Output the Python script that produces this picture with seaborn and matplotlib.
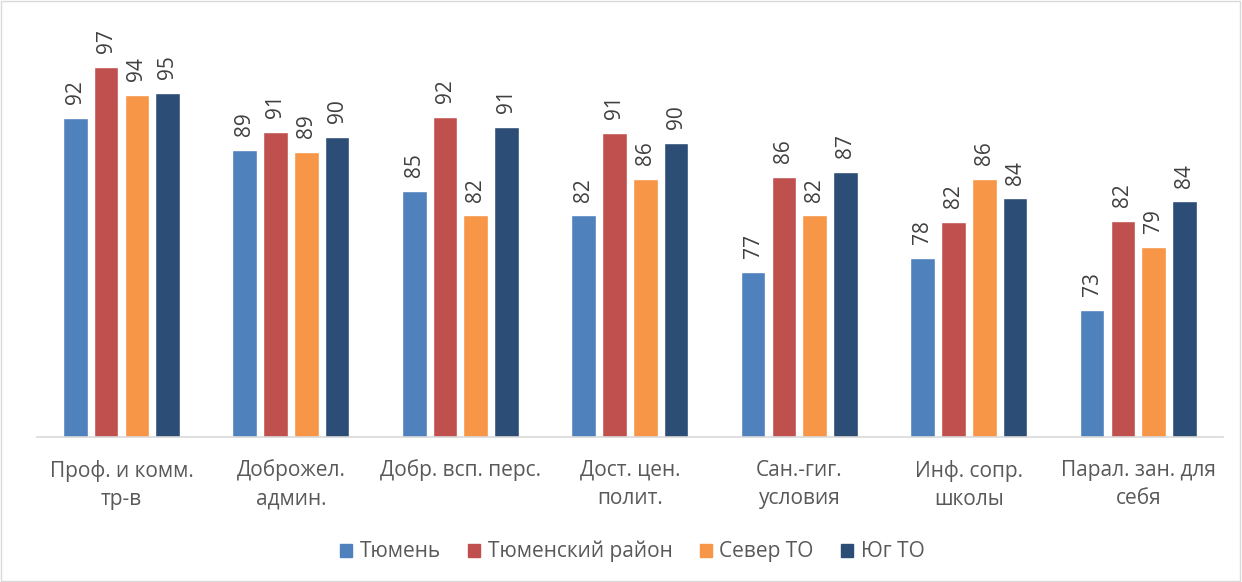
import pandas as pd
import seaborn as sns
import matplotlib.pyplot as plt
from matplotlib.patches import Rectangle

# categories (x axis)
categories = [
    "Проф. и комм.\nтр-в",
    "Доброжел.\nадмин.",
    "Добр. всп. перс.",
    "Дост. цен.\nполит.",
    "Сан.-гиг.\nусловия",
    "Инф. сопр.\nшколы",
    "Парал. зан. для\nсебя",
]

# series values
tyumen = [92.1, 88.9, 84.8, 82.3, 76.6, 78.0, 72.8]
tyumen_rayon = [97.2, 90.7, 92.2, 90.6, 86.2, 81.6, 81.7]
sever_to = [94.4, 88.7, 82.3, 86.0, 82.3, 86.0, 79.1]
yug_to = [94.6, 90.2, 91.2, 89.6, 86.7, 84.0, 83.7]

series = ["Тюмень", "Тюменский район", "Север ТО", "Юг ТО"]
colors = ["#4f81bd", "#c0504d", "#f79646", "#2c4d75"]

rows = []
for name, vals in zip(series, [tyumen, tyumen_rayon, sever_to, yug_to]):
    for cat, v in zip(categories, vals):
        rows.append({"cat": cat, "series": name, "value": v})
df = pd.DataFrame(rows)

sns.set_style("white")
plt.rcParams["font.family"] = ["Open Sans", "DejaVu Sans"]

fig = plt.figure(figsize=(12.42, 5.82), dpi=100)
ax = fig.add_axes([0.0296, 0.2486, 0.9551, 0.6839])

sns.barplot(data=df, x="cat", y="value", hue="series", hue_order=series,
            palette=colors, width=0.727, gap=0.2, saturation=1,
            order=categories, ax=ax, legend=False)

for cont in ax.containers:
    ax.bar_label(cont, fmt="{:.0f}", rotation=90, padding=10,
                 fontsize=15, color="#404040")

ax.set_ylim(60, 100)
ax.set_xlim(-0.5, 6.5)
ax.set_xlabel("")
ax.set_ylabel("")
ax.set_yticks([])
ax.tick_params(axis="x", length=0, pad=16, labelsize=15, labelcolor="#595959")
plt.setp(ax.get_xticklabels(), linespacing=1.45)
for s in ["top", "left", "right"]:
    ax.spines[s].set_visible(False)
ax.spines["bottom"].set_color("#d9d9d9")
ax.spines["bottom"].set_linewidth(1.2)

handles = [Rectangle((0, 0), 1, 1, color=c) for c in colors]
fig.legend(handles, series, loc="center", bbox_to_anchor=(0.509, 0.052), ncol=4,
           frameon=False, fontsize=15, handlelength=0.6, handleheight=0.6,
           handletextpad=0.35, columnspacing=1.3, labelcolor="#595959")

fig.patches.append(Rectangle((0.001, 0.002), 0.997, 0.996, transform=fig.transFigure,
                             fill=False, edgecolor="#d9d9d9", linewidth=1))

fig.savefig("out.png", dpi=100)
